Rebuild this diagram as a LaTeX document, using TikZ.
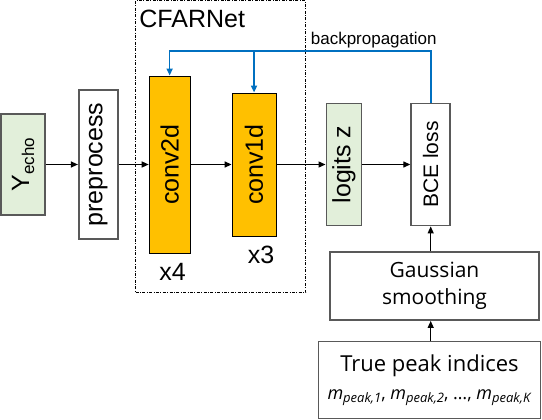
\documentclass[tikz,border=0pt]{standalone}
\usepackage{fontspec}
\setmainfont{Liberation Sans}
\newfontfamily\robfont{Open Sans}
\usetikzlibrary{positioning,arrows.meta,calc}
\definecolor{verde}{RGB}{226,239,218}
\definecolor{naranja}{RGB}{255,192,0}
\definecolor{gris}{RGB}{89,89,89}
\definecolor{azul}{RGB}{0,112,192}
\newcommand\mpk[1]{\textit{m}{\fontsize{13}{13}\selectfont\raisebox{-3.5pt}{\textit{peak,#1}}}}

\begin{document}
\begin{tikzpicture}[x=1pt, y=-1pt,
  font=\fontsize{25}{30}\selectfont,
  dat/.style={draw=gris, line width=1.8pt, fill=verde, inner sep=0pt},
  caja/.style={draw=gris, line width=1.8pt, fill=white, inner sep=0pt},
  conv/.style={draw, line width=0.9pt, fill=naranja, inner sep=0pt},
  grupo/.style={draw, line width=0.6pt, inner sep=0pt,
                dash pattern=on 3pt off 1.5pt on 0.8pt off 1.5pt},
  fl/.style={-{Triangle[length=7pt, width=6pt]}, line width=1.3pt},
  ret/.style={-{Triangle[length=7pt, width=6pt]}, line width=1.6pt, azul}
]
\useasboundingbox (0,0) rectangle (542,420);
\node[grupo, minimum width=170pt, minimum height=292pt] (cfar) at (220.5,146.5) {};
\node[anchor=base west, inner sep=0pt] at ($(cfar.north west)+(4,27)$) {CFARNet};

\node[dat, minimum width=44pt, minimum height=101pt] (yin) at (23,164.5)
  {\rotatebox{90}{Y{\fontsize{17}{17}\selectfont\raisebox{-5pt}{echo}}}};
\node[caja, minimum width=39pt, minimum height=149pt, right=32pt of yin] (pre)
  {\rotatebox{90}{preprocess}};
\node[conv, minimum width=41pt, minimum height=177pt, right=30pt of pre] (c2)
  {\rotatebox{90}{conv2d}};
\node[conv, minimum width=44pt, minimum height=143pt, right=41pt of c2] (c1)
  {\rotatebox{90}{conv1d}};
\node[dat, minimum width=35pt, minimum height=122pt, right=49pt of c1] (lz)
  {\rotatebox{90}{logits z}};
\node[caja, minimum width=39pt, minimum height=122pt, right=48pt of lz,
      font=\fontsize{21}{25}\selectfont] (bce)
  {\rotatebox{90}{BCE loss}};

\node[anchor=base] at ($(c2.south)+(3,27)$) {x4};
\node[anchor=base] at ($(c1.south)+(7,27)$) {x3};

\node[caja, minimum width=209pt, minimum height=68pt, align=center,
      font=\robfont\fontsize{21}{27}\selectfont] (gs) at (434.5,286)
  {Gaussian\\smoothing};
\node[caja, minimum width=222pt, minimum height=77pt, align=center,
      font=\robfont\fontsize{22}{27}\selectfont] (tp) at (429.5,380)
  {True peak indices\\[1pt]{\fontsize{18}{20}\selectfont\mpk{1}, \mpk{2}, …, \mpk{K}}};

\foreach \a/\b in {yin/pre, pre/c2, c2/c1, c1/lz, lz/bce}
  \draw[fl] (\a) -- (\b);
\draw[fl] (tp.north -| bce.south) -- (gs.south -| bce.south);
\draw[fl] (gs.north -| bce.south) -- (bce.south);

\coordinate (top) at (0,51);
\draw[ret] (bce.north) -- (bce.north |- top) -- (c2.north |- top) -- (c2.north);
\draw[ret] (c1.north |- top) -- (c1.north);
\node[font=\fontsize{17}{20}\selectfont, anchor=base, inner sep=0pt]
  at ($(bce.north |- top)+(-57,-6)$) {backpropagation};
\end{tikzpicture}
\end{document}
